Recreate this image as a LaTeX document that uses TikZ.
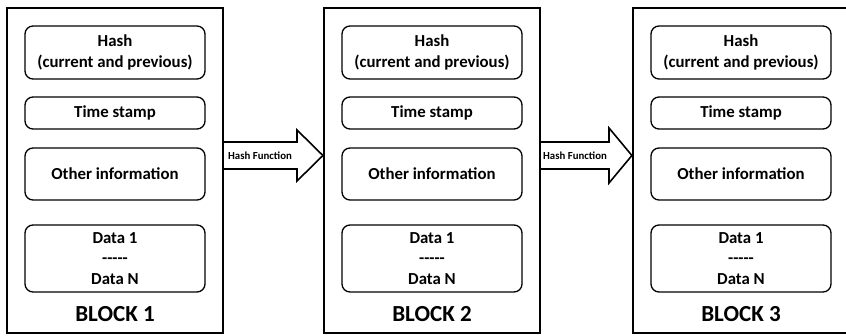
\documentclass[tikz,border=0pt]{standalone}
\usepackage{fontspec}
\setmainfont{Carlito}
\begin{document}
\begin{tikzpicture}[x=1pt,y=-1pt,
  blockbox/.style={draw,line width=2.2pt,minimum width=216pt,minimum height=325pt,inner sep=0pt},
  itembox/.style={draw,line width=1.3pt,rounded corners=8pt,minimum width=180pt,inner sep=0pt,align=center,font=\bfseries\fontsize{16.8}{21}\selectfont},
  blocklabel/.style={font=\bfseries\fontsize{23}{26}\selectfont},
  arrowlabel/.style={font=\bfseries\fontsize{10.8}{12}\selectfont},
  bigarrow/.style={draw,fill=white,line width=1.6pt,line join=miter}]
\useasboundingbox (0,0) rectangle (846,336);
\foreach \i/\cx in {1/115,2/432,3/741}{
  \node[blockbox] (b\i) at (\cx,170.5) {};
  \node[itembox,minimum height=53pt] (h\i) at (\cx,52.5) {Hash\\(current and previous)};
  \node[itembox,minimum height=32pt] (t\i) at (\cx,113) {Time stamp};
  \node[itembox,minimum height=52pt] (o\i) at (\cx,174) {Other information};
  \node[itembox,minimum height=67pt] (d\i) at (\cx,258.5) {Data 1\\[-0.5pt]-{}-{}-{}-{}-\\[-0.5pt]Data N};
  \node[blocklabel] (l\i) at (\cx,314) {BLOCK \i};
}
% arrows
\draw[bigarrow] (b1.east |- 0,142) -- (297,142) -- (297,130) -- (b2.west |- 0,155.5) -- (297,181) -- (297,169) -- (b1.east |- 0,169);
\node[arrowlabel] (a1) at (260,155.5) {Hash Function};
\draw[bigarrow] (b2.east |- 0,142) -- (609,142) -- (609,128) -- (b3.west |- 0,155.5) -- (609,183) -- (609,169) -- (b2.east |- 0,169);
\node[arrowlabel] (a2) at (575,155.5) {Hash Function};
\end{tikzpicture}
\end{document}
